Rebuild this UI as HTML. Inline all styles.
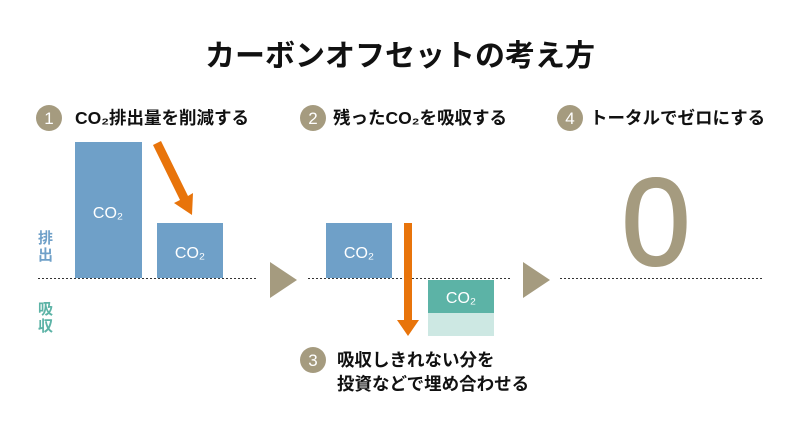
<!DOCTYPE html>
<html><head><meta charset="utf-8"><style>
html,body{margin:0;padding:0;background:#fff;}
svg{display:block;font-family:"Liberation Sans","Noto Sans CJK JP",sans-serif;}
</style></head><body>
<svg width="800" height="434" viewBox="0 0 800 434">
<text x="400" y="66" text-anchor="middle" font-size="30" font-weight="bold" fill="#111">カーボンオフセットの考え方</text>
<g fill="#a59b7f">
<circle cx="49" cy="118" r="13"/><circle cx="313" cy="118" r="13"/><circle cx="570" cy="118" r="13"/><circle cx="313" cy="360" r="13"/>
<polygon points="270,262 297,280 270,298"/><polygon points="523,262 550,280 523,298"/>
</g>
<g fill="#fff" font-size="17" text-anchor="middle"><text x="49" y="124">1</text><text x="313" y="124">2</text><text x="570" y="124">4</text><text x="313" y="366">3</text></g>
<g font-size="17.5" font-weight="bold" fill="#111">
<text x="75" y="124">CO₂排出量を削減する</text>
<text x="333" y="124">残ったCO₂を吸収する</text>
<text x="590" y="124">トータルでゼロにする</text>
<text x="337" y="366">吸収しきれない分を</text>
<text x="337" y="390">投資などで埋め合わせる</text>
</g>
<g fill="#6fa0c8"><rect x="75" y="142" width="67" height="136"/><rect x="157" y="223" width="66" height="55"/><rect x="326" y="223" width="66" height="55"/></g>
<rect x="428" y="280" width="66" height="33" fill="#5cb3a6"/><rect x="428" y="313" width="66" height="23" fill="#cde8e3"/>
<g fill="#fff" font-size="16" text-anchor="middle"><text x="108" y="218">CO₂</text><text x="190" y="258">CO₂</text><text x="359" y="258">CO₂</text><text x="461" y="303">CO₂</text></g>
<g stroke="#333" stroke-width="1" stroke-dasharray="2,2"><line x1="38" y1="278.5" x2="256" y2="278.5"/><line x1="308" y1="278.5" x2="510" y2="278.5"/><line x1="560" y1="278.5" x2="762" y2="278.5"/></g>
<g fill="#e8740b"><polygon points="153,145 161,141 188,196 193,193 192,215 174,203 180,200"/><polygon points="404,223 412,223 412,320 419,320 408,336 397,320 404,320"/></g>
<g font-size="15" font-weight="bold"><text x="38" y="243" fill="#6fa0c8">排</text><text x="38" y="260" fill="#6fa0c8">出</text><text x="38" y="314" fill="#5cb3a6">吸</text><text x="38" y="331" fill="#5cb3a6">収</text></g>
<text x="656" y="265" text-anchor="middle" font-size="124" fill="#a59b7f" stroke="#a59b7f" stroke-width="2">0</text>
</svg>
</body></html>
